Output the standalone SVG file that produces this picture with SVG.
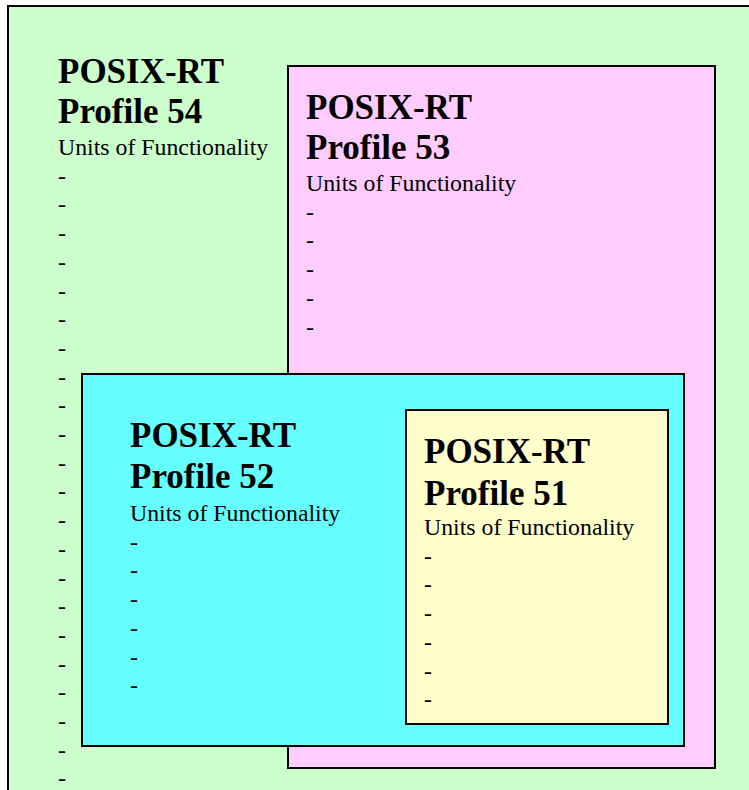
<svg xmlns="http://www.w3.org/2000/svg" width="749" height="790" viewBox="0 0 749 790">
<style>
.box{stroke:#000;stroke-width:2}
.t{font-family:"Liberation Serif","Times New Roman",serif;fill:#000}
.h{font-size:35px;font-weight:bold}
.s{font-size:23.8px}
</style>
<rect width="749" height="790" fill="#fff"/>
<g id="profile54">
<rect class="box" x="8" y="6" width="760" height="800" fill="#CCFFCC"/>
<text class="t h" x="58" y="83">POSIX-RT</text>
<text class="t h" x="58" y="123">Profile 54</text>
<text class="t s" x="58" y="155">Units of Functionality</text>
<text class="t s" x="58">
<tspan x="58" y="183.7">-</tspan><tspan x="58" y="212.4">-</tspan><tspan x="58" y="241.1">-</tspan><tspan x="58" y="269.8">-</tspan><tspan x="58" y="298.5">-</tspan><tspan x="58" y="327.2">-</tspan><tspan x="58" y="355.9">-</tspan><tspan x="58" y="384.6">-</tspan><tspan x="58" y="413.3">-</tspan><tspan x="58" y="442">-</tspan><tspan x="58" y="470.7">-</tspan><tspan x="58" y="499.4">-</tspan><tspan x="58" y="528.1">-</tspan><tspan x="58" y="556.8">-</tspan><tspan x="58" y="585.5">-</tspan><tspan x="58" y="614.2">-</tspan><tspan x="58" y="642.9">-</tspan><tspan x="58" y="671.6">-</tspan><tspan x="58" y="700.3">-</tspan><tspan x="58" y="729">-</tspan><tspan x="58" y="757.7">-</tspan><tspan x="58" y="786.4">-</tspan>
</text>
</g>
<g id="profile53">
<rect class="box" x="288" y="66" width="427" height="702" fill="#FFCCFF"/>
<text class="t h" x="306" y="119">POSIX-RT</text>
<text class="t h" x="306" y="159">Profile 53</text>
<text class="t s" x="306" y="191">Units of Functionality</text>
<text class="t s">
<tspan x="306" y="219.7">-</tspan><tspan x="306" y="248.4">-</tspan><tspan x="306" y="277.1">-</tspan><tspan x="306" y="305.8">-</tspan><tspan x="306" y="334.5">-</tspan>
</text>
</g>
<g id="profile52">
<rect class="box" x="82" y="374" width="602" height="372" fill="#66FFFF"/>
<text class="t h" x="130" y="447">POSIX-RT</text>
<text class="t h" x="130" y="488">Profile 52</text>
<text class="t s" x="130" y="521">Units of Functionality</text>
<text class="t s">
<tspan x="130" y="549.7">-</tspan><tspan x="130" y="578.4">-</tspan><tspan x="130" y="607.1">-</tspan><tspan x="130" y="635.8">-</tspan><tspan x="130" y="664.5">-</tspan><tspan x="130" y="693.2">-</tspan>
</text>
</g>
<g id="profile51">
<rect class="box" x="406" y="410" width="262" height="314" fill="#FFFFCC"/>
<text class="t h" x="424" y="463">POSIX-RT</text>
<text class="t h" x="424" y="505">Profile 51</text>
<text class="t s" x="424" y="535">Units of Functionality</text>
<text class="t s">
<tspan x="424" y="563.7">-</tspan><tspan x="424" y="592.4">-</tspan><tspan x="424" y="621.1">-</tspan><tspan x="424" y="649.8">-</tspan><tspan x="424" y="678.5">-</tspan><tspan x="424" y="707.2">-</tspan>
</text>
</g>
<g id="connectors"/>
</svg>
